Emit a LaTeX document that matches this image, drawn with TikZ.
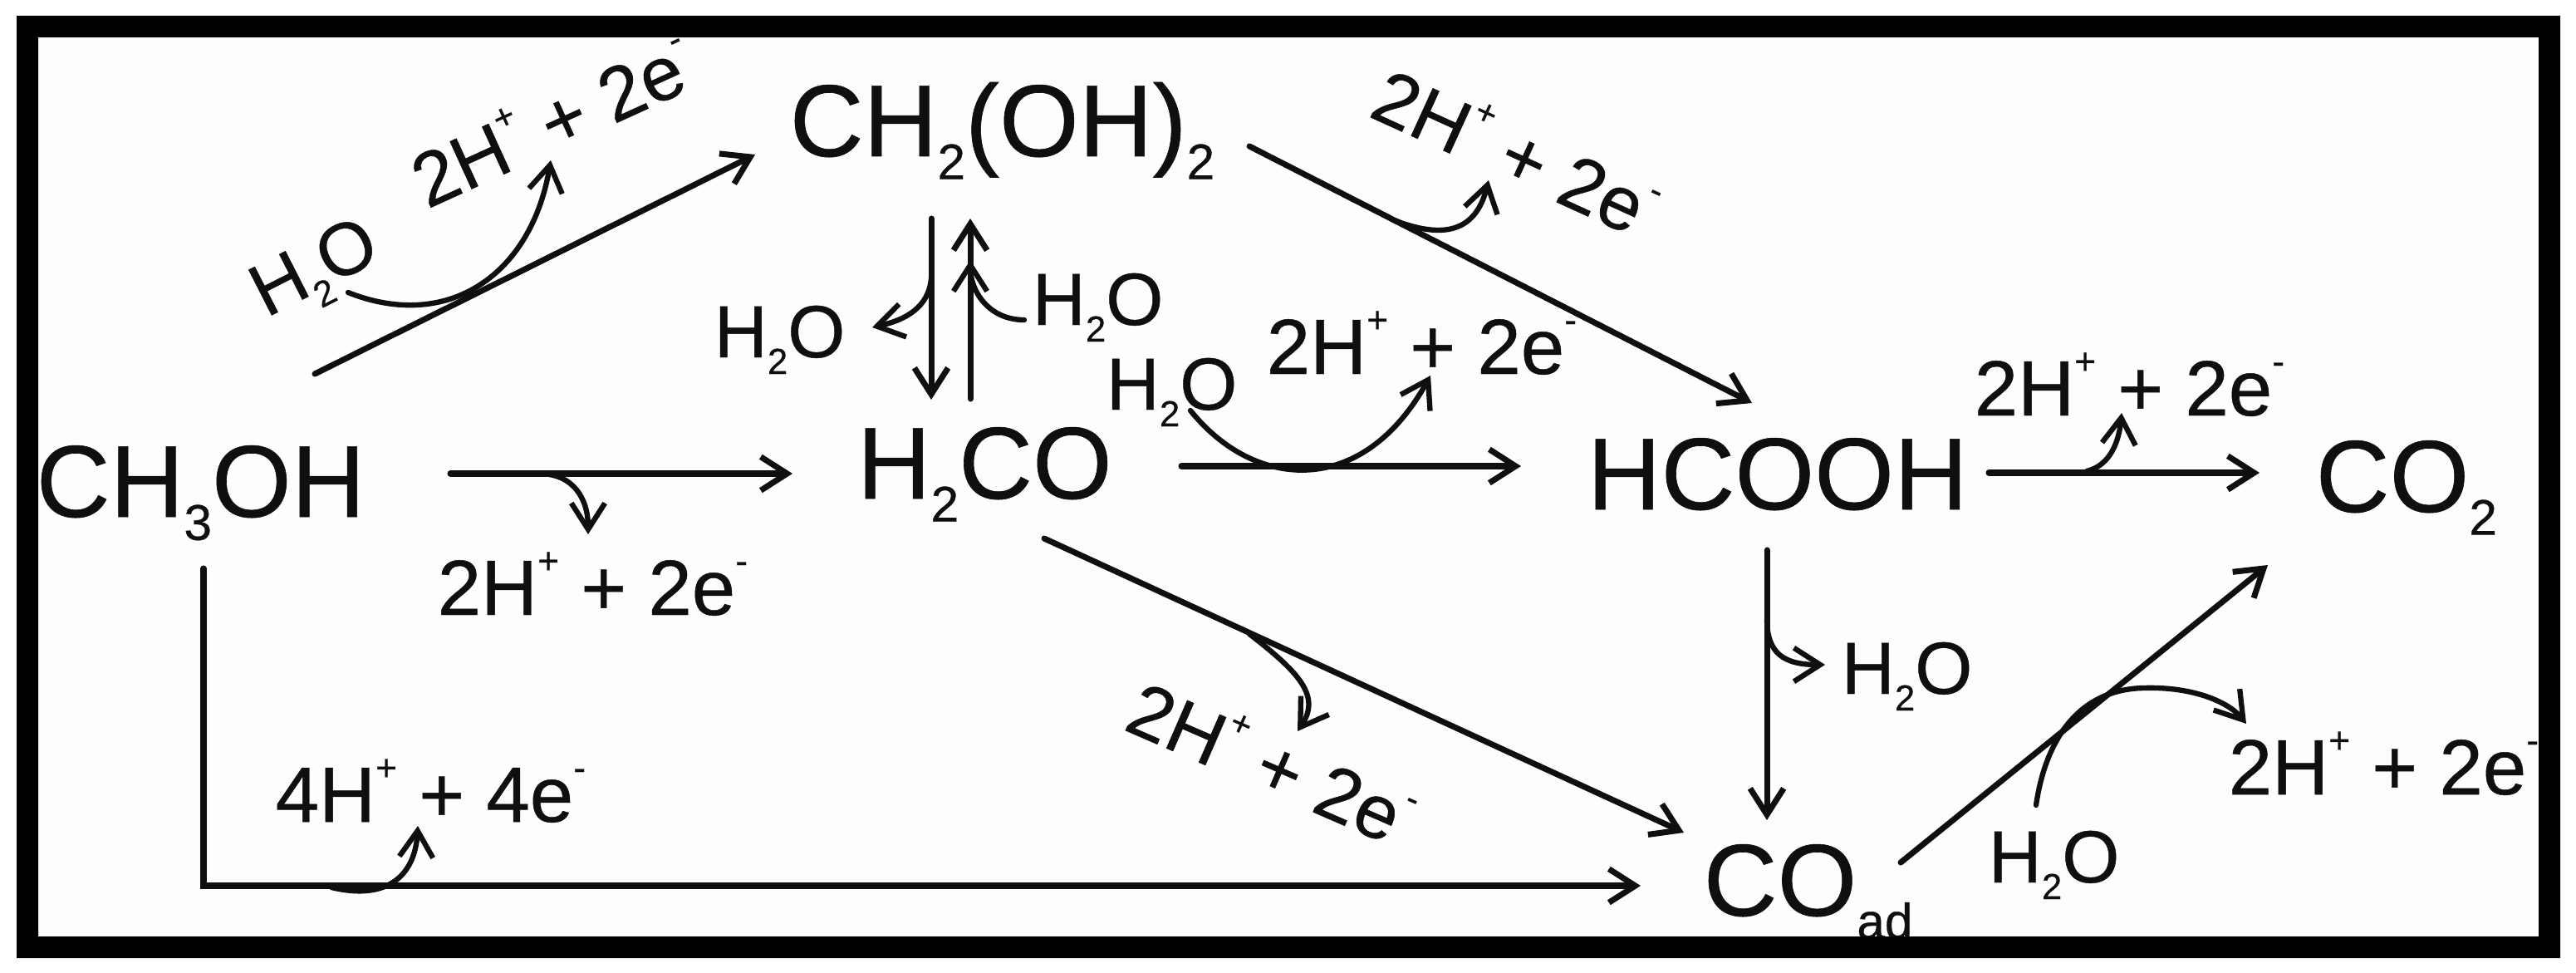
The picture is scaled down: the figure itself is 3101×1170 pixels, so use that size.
\documentclass[tikz,border=0pt]{standalone}
\usepackage{fontspec}
\usepackage{graphicx}
\setmainfont{Liberation Sans}[RawFeature={embolden=0.5}]
\usetikzlibrary{arrows.meta}
\newcommand{\sbs}[1]{\raisebox{-.225em}{\scalebox{.49}{#1}}}
\newcommand{\sps}[1]{\raisebox{.53em}{\scalebox{.47}{#1}}}
\definecolor{paper}{gray}{0.992}
\definecolor{ink}{gray}{0.06}
\tikzset{
  bigchem/.style={inner sep=0pt,anchor=base west,text=ink,font=\fontsize{35pt}{40pt}\selectfont},
  waterlbl/.style={inner sep=0pt,anchor=base west,text=ink,font=\fontsize{25.3pt}{30pt}\selectfont},
  ionlbl/.style={inner sep=0pt,anchor=base west,text=ink,font=\fontsize{26.8pt}{30pt}\selectfont},
  ionrot/.style={inner sep=0pt,anchor=base west,text=ink,font=\fontsize{26pt}{30pt}\selectfont},
  rxn/.style={draw=ink,line width=2pt,line cap=round,-{Straight Barb[length=9pt,width=11.5pt,line width=2pt]}},
  curl/.style={draw=ink,line width=1.8pt,line cap=round,-{Straight Barb[length=9pt,width=11.5pt,line width=1.8pt]}},
}
\begin{document}
\begin{tikzpicture}[x=0.01cm,y=-0.01cm]
\useasboundingbox (0,0) rectangle (3101,1170);
\fill[paper] (20,19) rectangle (3082,1153);

% species
\node[bigchem] (ch3oh) at (43,622) {CH\sbs{3}OH};
\node[bigchem] (ch2oh2) at (950,188) {CH\sbs{2}(OH)\sbs{2}};
\node[bigchem] (h2co) at (1031,600) {H\sbs{2}CO};
\node[bigchem] (hcooh) at (1910,613) {HCOOH};
\node[bigchem] (co2) at (2787,616) {CO\sbs{2}};
\node[bigchem] (coad) at (2050,1102) {CO\sbs{ad}};

% water labels
\node[waterlbl,rotate=27] (w1) at (320,383) {H\sbs{2}O};
\node[waterlbl] (w2) at (859,430) {H\sbs{2}O};
\node[waterlbl] (w3) at (1242,391) {H\sbs{2}O};
\node[waterlbl] (w4) at (1331,493) {H\sbs{2}O};
\node[waterlbl] (w5) at (2216,835) {H\sbs{2}O};
\node[waterlbl] (w6) at (2393,1062) {H\sbs{2}O};

% proton / electron labels
\node[ionrot,rotate=24.5] (i1) at (514,252) {2H\sps{+} + 2e\sps{-}};
\node[ionlbl] (i2) at (526,740) {2H\sps{+} + 2e\sps{-}};
\node[ionlbl] (i3) at (331,989) {4H\sps{+} + 4e\sps{-}};
\node[ionrot,rotate=-24.5] (i4) at (1645,139) {2H\sps{+} + 2e\sps{-}};
\node[ionlbl] (i5) at (1524,450) {2H\sps{+} + 2e\sps{-}};
\node[ionrot,rotate=-23.5] (i6) at (1350,877) {2H\sps{+} + 2e\sps{-}};
\node[ionlbl] (i7) at (2376,500) {2H\sps{+} + 2e\sps{-}};
\node[ionlbl] (i8) at (2682,956) {2H\sps{+} + 2e\sps{-}};

% main reaction arrows
\draw[rxn] ([shift={(336,-172)}]ch3oh.base west) -- ([shift={(-41,-2)}]ch2oh2.base west);
\draw[rxn] ([shift={(499,-52)}]ch3oh.base west) -- ([shift={(-77,-30)}]h2co.base west);
\draw[rxn] ([shift={(171,75)}]ch2oh2.base west) -- ([shift={(90,-119)}]h2co.base west);
\draw[rxn] ([shift={(137,-120)}]h2co.base west) -- ([shift={(218,75)}]ch2oh2.base west);
\draw[rxn] ([shift={(554,-12)}]ch2oh2.base west) -- ([shift={(199,-128)}]hcooh.base west);
\draw[rxn] ([shift={(391,-39)}]h2co.base west) -- ([shift={(-79,-52)}]hcooh.base west);
\draw[rxn] ([shift={(226,48)}]h2co.base west) -- ([shift={(-23,-100)}]coad.base west);
\draw[rxn] ([shift={(484,-44)}]hcooh.base west) -- ([shift={(-67,-47)}]co2.base west);
\draw[rxn] ([shift={(217,49)}]hcooh.base west) -- ([shift={(77,-115)}]coad.base west);
\draw[rxn] ([shift={(238,-64)}]coad.base west) -- ([shift={(-57,64)}]co2.base west);
\draw[rxn] ([shift={(202,62)}]ch3oh.base west) |- ([shift={(-75,-36)}]coad.base west);

% side curls
\coordinate (s1) at (419,352);  \coordinate (e1) at (663,193);
\coordinate (s2) at (649,570);  \coordinate (e2) at (708,643);
\coordinate (s3) at (399,1068); \coordinate (e3) at (503,994);
\coordinate (s4) at (1504,763); \coordinate (e4) at (1562,880);
\coordinate (s5) at (1678,265); \coordinate (e5) at (1792,217);
\coordinate (s6) at (1433,494); \coordinate (e6) at (1722,452);
\coordinate (s7) at (2512,567); \coordinate (e7) at (2554,497);
\coordinate (s8) at (2127,745); \coordinate (e8) at (2197,800);
\coordinate (s9) at (2451,969); \coordinate (m9) at (2580,828); \coordinate (e9) at (2704,871);
\coordinate (s10) at (1121,335); \coordinate (e10) at (1050,394);
\coordinate (s11) at (1233,385); \coordinate (e11) at (1168,313);

\draw[curl] (s1) .. controls (540,400) and (640,330) .. (e1);
\draw[curl] (s2) .. controls (690,570) and (708,600) .. (e2);
\draw[curl] (s3) .. controls (470,1085) and (500,1050) .. (e3);
\draw[curl] (s4) .. controls (1565,810) and (1590,838) .. (e4);
\draw[curl] (s5) .. controls (1730,285) and (1775,285) .. (e5);
\draw[curl] (s6) .. controls (1510,590) and (1640,600) .. (e6);
\draw[curl] (s7) .. controls (2541,560) and (2551,530) .. (e7);
\draw[curl] (s8) .. controls (2127,787) and (2148,800) .. (e8);
\draw[curl] (s9) .. controls (2462,893) and (2500,830) .. (m9) .. controls (2640,826) and (2683,845) .. (e9);
\draw[curl] (s10) .. controls (1118,370) and (1090,385) .. (e10);
\draw[curl] (s11) .. controls (1190,385) and (1168,350) .. (e11);

% frame, over the text it cuts
\fill[black,even odd rule] (20,19) rectangle (3082,1153) (46,45) rectangle (3056,1127);
\end{tikzpicture}
\end{document}
